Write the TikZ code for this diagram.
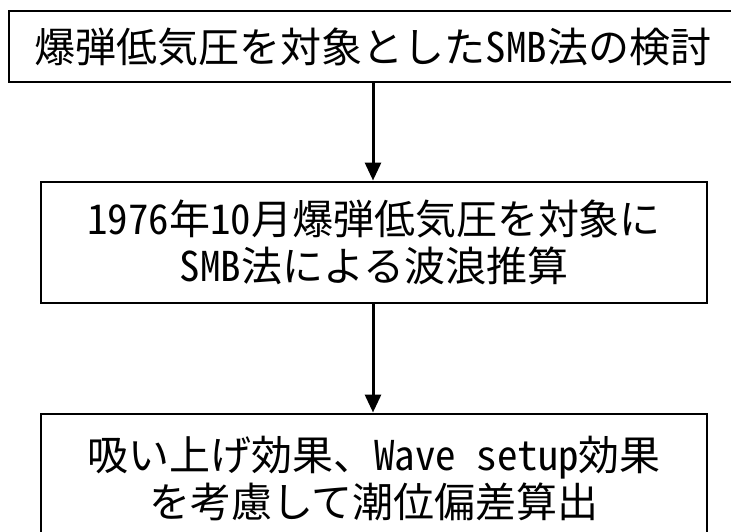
\documentclass[tikz,border=0pt]{standalone}
\usepackage{fontspec}
\newfontfamily\jp{Noto Sans CJK JP}[RawFeature={+hwid}]
\usetikzlibrary{arrows.meta}
\tikzset{
  box/.style={draw=black, line width=2pt, fill=white, align=center, inner sep=0pt,
    font=\jp\fontsize{41}{47}\selectfont},
  arr/.style={draw=black, line width=3pt, -{Triangle[width=16pt,length=18pt]}, shorten >=0.5pt}
}
\begin{document}
\begin{tikzpicture}[x=1pt,y=-1pt]
\useasboundingbox (0,0) rectangle (731,531);
\clip (0,0) rectangle (731,531);
\node[box, minimum width=728pt, minimum height=71pt] (b1) at (373,46.5) {爆弾低気圧を対象としたSMB法の検討};
\node[box, minimum width=666pt, minimum height=121pt] (b2) at (374,242.5) {1976年10月爆弾低気圧を対象に\\SMB法による波浪推算};
\node[box, minimum width=666pt, minimum height=130pt] (b3) at (374,479) {吸い上げ効果、Wave setup効果\\を考慮して潮位偏差算出};
\draw[arr] (b1.south) -- (b1.south |- b2.north);
\draw[arr] (b2.south -| b1.south) -- (b1.south |- b3.north);
\end{tikzpicture}
\end{document}
